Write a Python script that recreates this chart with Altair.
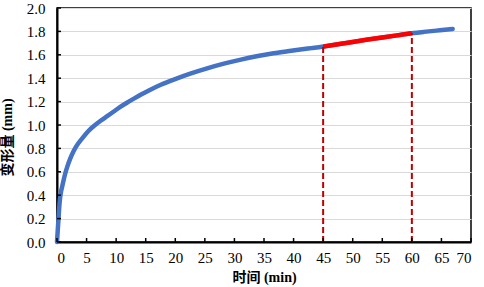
import altair as alt
import pandas as pd

# Curve readings (time in min, deformation in mm)
t_vals = [0, 0.1, 0.27, 0.45, 0.7, 1.0, 1.3, 1.7, 2.2, 2.8, 3.5, 4.5, 5.3, 6.2, 7.3, 8.5,
          9.6, 10.7, 11.8, 13.0, 14.2, 15.5, 17.5, 19.8, 22.5, 25.4, 28.2, 31.1, 34.0,
          36.7, 39.0, 41.2, 43.0, 45.0, 47.5, 50.0, 52.5, 55.0, 57.5, 60.0, 62.0, 64.0, 66.9]
y_vals = [0, 0.08, 0.21, 0.36, 0.44, 0.50, 0.57, 0.64, 0.71, 0.78, 0.84, 0.90, 0.95, 0.99,
          1.035, 1.075, 1.115, 1.155, 1.19, 1.225, 1.26, 1.295, 1.345, 1.39, 1.44, 1.485,
          1.525, 1.56, 1.59, 1.615, 1.63, 1.645, 1.657, 1.67, 1.69, 1.71, 1.73, 1.748,
          1.766, 1.785, 1.796, 1.806, 1.82]

# Vertical dashed markers
mark_t = [45, 60]
mark_y = [1.67, 1.785]

x_ticks = [0, 5, 10, 15, 20, 25, 30, 35, 40, 45, 50, 55, 60, 65, 70]
y_ticks = [0.0, 0.2, 0.4, 0.6, 0.8, 1.0, 1.2, 1.4, 1.6, 1.8, 2.0]

W, H = 414, 234
FONT = "Times New Roman, Liberation Serif, serif"
CJK = "Times New Roman, Liberation Serif, Noto Sans CJK SC, serif"

curve = pd.DataFrame({"t": t_vals, "y": y_vals})
marks = pd.DataFrame({"t": mark_t, "y": mark_y, "y0": [0, 0]})
xt = pd.DataFrame({"t": x_ticks})
yt = pd.DataFrame({"y": y_ticks})

xscale = alt.Scale(domain=[0, 70], nice=False, zero=False)
yscale = alt.Scale(domain=[0, 2.0], nice=False)

xaxis = alt.Axis(values=x_ticks, title="时间 (min)", grid=False, ticks=False,
                 labelPadding=8, titlePadding=5, format="d", labelOverlap=False,
                 labelFont=FONT, labelFontSize=15, titleFont=CJK, titleFontSize=14,
                 titleFontWeight="bold", labelColor="black", titleColor="black")
yaxis = alt.Axis(values=y_ticks, title="变形量 (mm)", grid=True, ticks=False,
                 labelPadding=12, format=".1f", labelOverlap=False,
                 labelFont=FONT, labelFontSize=15, titleFont=CJK, titleFontSize=14,
                 titleFontWeight="bold", labelColor="black", titleColor="black",
                 titleX=-43, titleY=129, titleBaseline="bottom", titleAlign="center")


def X(field):
    return alt.X(field, type="quantitative", scale=xscale, axis=xaxis)


def Y(field):
    return alt.Y(field, type="quantitative", scale=yscale, axis=yaxis)


blue = alt.Chart(curve).mark_line(color="#4472C4", strokeWidth=4.5, strokeCap="round",
                                  interpolate="basis").encode(x=X("t"), y=Y("y"))

red = alt.Chart(curve).transform_filter(
    (alt.datum.t >= 45) & (alt.datum.t <= 60)
).mark_line(color="#FF0000", strokeWidth=4.5, interpolate="linear").encode(
    x=X("t"), y=Y("y"))

dashes = alt.Chart(marks).mark_rule(color="#C00000", strokeWidth=2, strokeDash=[6, 3]).encode(
    x=X("t"), y=Y("y0"), y2="y:Q")

xtick_marks = alt.Chart(xt).mark_rule(color="black", strokeWidth=1.5).encode(
    x=X("t"), y=alt.value(H), y2=alt.value(H - 4))
ytick_marks = alt.Chart(yt).mark_rule(color="black", strokeWidth=1.5).encode(
    y=Y("y"), x=alt.value(0), x2=alt.value(4))

chart = alt.layer(blue, red, dashes, xtick_marks, ytick_marks).properties(
    width=W, height=H,
    autosize=alt.AutoSizeParams(type="none"),
    padding={"left": 57, "top": 8, "right": 13, "bottom": 45},
    background="white",
).configure_view(
    stroke="black", strokeWidth=1.5
).configure_axis(
    domainColor="black", domainWidth=2,
    gridColor="#D9D9D9", gridWidth=1,
    labelFont=FONT, labelFontSize=15, titleFont=CJK, titleFontSize=14,
)

chart.save("out.html", embed_options={"renderer": "svg", "actions": False})
